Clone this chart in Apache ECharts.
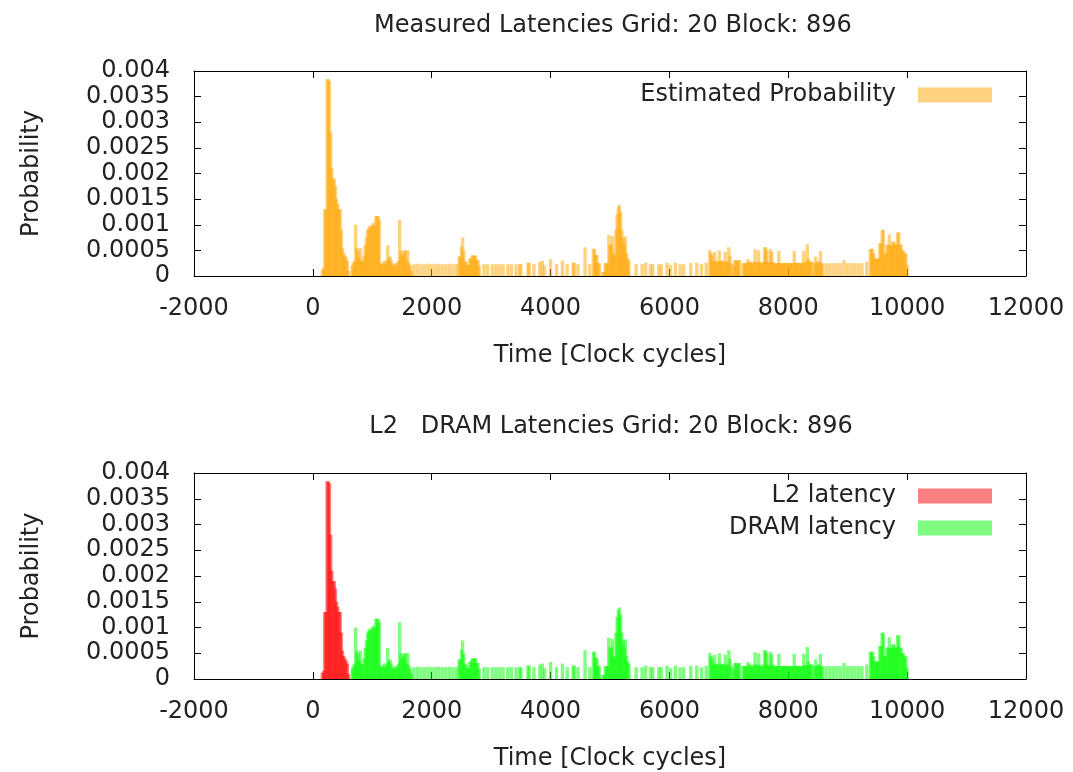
<!DOCTYPE html>
<html>
<head>
<meta charset="utf-8">
<script src="https://cdn.jsdelivr.net/npm/echarts@6/dist/echarts.min.js"></script>
<style>
  html, body { margin: 0; padding: 0; background: #fff; }
  #chart { width: 1073px; height: 772px; }
</style>
</head>
<body>
<div id="chart"></div>
<script>
// Latency histogram: [clock cycles, probability]

// L2 hits
const l2Latency = [
  [160,0.00012],[180,0.00016],[200,0.0013],[220,0.0013],[240,0.00384],[260,0.00384],[280,0.0038],
  [300,0.0028],[320,0.0021],[340,0.0019],[360,0.0019],[380,0.00176],[400,0.0015],[420,0.0014],
  [440,0.0013],[460,0.0013],[480,0.0009],[500,0.00055],[520,0.00045],[540,0.0004],[560,0.00036],
  [580,0.0003],[600,0.0001]
];

// DRAM accesses, split by cycle range
const dramNear = [
  [660,0.0002],[680,0.00026],[700,0.0003],[720,0.001],[740,0.00055],[760,0.0005],[780,0.00036],
  [800,0.00055],[820,0.0003],[840,0.00028],[860,0.0004],[880,0.0006],[900,0.00075],[920,0.0009],
  [940,0.00094],[960,0.00098],[980,0.00094],[1000,0.001],[1020,0.00104],[1040,0.00098],
  [1060,0.00117],[1080,0.00117],[1100,0.00117],[1120,0.0011],[1140,0.00025],[1160,0.00023],
  [1180,0.00025],[1200,0.0003],[1220,0.00023],[1240,0.0003],[1260,0.0006],[1280,0.00035],
  [1300,0.00038],[1320,0.0003],[1340,0.00022],[1360,0.0002],[1380,0.00025],[1400,0.0002],
  [1420,0.00025],[1440,0.0003],[1460,0.0011],[1480,0.0005],[1500,0.0004],[1520,0.00045],
  [1540,0.0005],[1560,0.0005],[1580,0.0003],[1600,0.0005],[1620,0.00025],[1640,0.0002],[1660,0.0001]
];

const dramMid = [
  [1700,0.00023],[1760,0.00024],[1820,0.00023],[1880,0.00023],[1940,0.00024],[2000,0.00023],
  [2060,0.00023],[2120,0.00024],[2180,0.00023],[2240,0.00023],[2300,0.00024],[2360,0.00023],
  [2420,0.00023],[2460,0.00038],[2480,0.00038],[2500,0.00057],[2520,0.00075],[2540,0.0005],
  [2560,0.00028],[2580,0.00028],[2600,0.00021],[2620,0.00021],[2640,0.00034],[2660,0.00034],
  [2680,0.0004],[2700,0.0004],[2720,0.0004],[2740,0.0004],[2760,0.00031],[2780,0.00031],[2800,0.0002],
  [2880,0.00023],[2940,0.00023],[3020,0.00023],[3080,0.00023],[3140,0.00023],[3200,0.00023],
  [3280,0.00023],[3340,0.00023],[3420,0.00023],[3480,0.00023],[3500,0.00023],[3620,0.00026],
  [3640,0.00026],[3720,0.00023],[3820,0.00028],[3860,0.0003],[3900,0.00021],[4000,0.00033],
  [4100,0.00023],[4200,0.0003],[4280,0.00023],[4380,0.00026],[4400,0.00026],[4460,0.00023],
  [4580,0.00056],[4660,0.00023],[4720,0.00053],[4740,0.00053],[4760,0.00041],[4780,0.00041],
  [4800,0.00025],[4820,0.00025],[4880,0.00008],[4900,0.00008],[4920,0.00025],[4940,0.00025],
  [4960,0.00025]
];

const dramPeak = [
  [4980,0.0008],[5000,0.0006],[5020,0.00062],[5040,0.00078],[5060,0.00045],[5080,0.0004],
  [5100,0.0009],[5120,0.0012],[5140,0.00135],[5160,0.00139],[5180,0.00125],[5200,0.0009],
  [5220,0.00075],[5240,0.00062],[5260,0.00077],[5280,0.00045],[5300,0.00035],[5320,0.0003]
];

const dramTail = [
  [5440,0.00023],[5540,0.00023],[5600,0.00026],[5680,0.00023],[5720,0.00023],[5820,0.00023],
  [5860,0.00023],[5960,0.00026],[6020,0.00021],[6100,0.00026],[6180,0.00023],[6240,0.00023],
  [6360,0.00026],[6460,0.00026],[6540,0.00023],[6620,0.00026],
  [6680,0.00051],[6700,0.00045],[6720,0.0004],[6740,0.00028],[6760,0.00047],[6780,0.0003],
  [6800,0.00028],[6820,0.00028],[6840,0.0005],[6860,0.0003],[6880,0.00028],[6900,0.0003],
  [6920,0.00028],[6940,0.00047],[6960,0.00028],[6980,0.00028],[7000,0.00056],[7020,0.0004],
  [7040,0.00025],[7080,0.0002],[7100,0.00031],[7120,0.00031],[7140,0.00028],[7160,0.00031],
  [7180,0.00031],[7240,0.00025],[7260,0.00025],[7280,0.00025],[7300,0.00025],[7320,0.00033],
  [7340,0.00028],[7360,0.00028],[7380,0.00025]
];

const dramFar = [
  [7400,0.00025],[7420,0.00028],[7440,0.00052],[7460,0.00028],[7480,0.00025],[7500,0.0005],
  [7520,0.00028],[7540,0.00025],[7560,0.00025],[7580,0.00028],[7600,0.00056],[7620,0.00056],
  [7640,0.0005],[7660,0.00028],[7680,0.00025],[7700,0.00053],[7720,0.00047],[7740,0.00028],
  [7760,0.00025],[7780,0.00025],[7800,0.00025],[7820,0.00025],[7840,0.00049],[7860,0.00025],
  [7880,0.00025],[7900,0.00025],[7920,0.00025],[7940,0.00026],[7960,0.00025],[7980,0.00025],
  [8000,0.00026],[8020,0.00025],[8040,0.00025],[8060,0.00025],[8080,0.00025],[8100,0.00049],
  [8120,0.00025],[8140,0.00025],[8160,0.00026],[8180,0.00025],[8200,0.00025],[8220,0.00025],
  [8240,0.00025],[8260,0.00049],[8280,0.00027],[8300,0.00027],[8320,0.00062],[8340,0.00034],
  [8360,0.00028],[8380,0.00028],[8400,0.00028],[8440,0.00025],[8460,0.00038],[8480,0.00025],
  [8500,0.00028],[8520,0.00028],[8540,0.00049],[8560,0.00025],[8580,0.00025],
  [8640,0.00025],[8700,0.00025],[8760,0.00025],[8820,0.00025],[8880,0.00025],[8940,0.00031],
  [9000,0.00025],[9060,0.00025],[9120,0.00025],[9180,0.00025],[9240,0.00025],[9320,0.00028],
  [9380,0.00053],[9400,0.00053],[9420,0.00053],[9440,0.00044],[9460,0.00034],[9480,0.00034],
  [9500,0.00034],[9520,0.00034],[9540,0.00064],[9560,0.00064],[9580,0.0009],[9600,0.0009],
  [9620,0.00044],[9640,0.00044],[9660,0.00061],[9680,0.00061],[9700,0.00081],[9720,0.0006],
  [9740,0.0006],[9760,0.00067],[9780,0.00067],[9800,0.00061],[9820,0.00061],[9840,0.00085],
  [9860,0.00085],[9880,0.00061],[9900,0.00061],[9920,0.0005],[9940,0.0005],[9960,0.00044],
  [9980,0.00044],[10000,0.00021]
];

const dramLatency = [].concat(dramNear, dramMid, dramPeak, dramTail, dramFar);
const measuredLatency = [].concat(l2Latency, dramLatency);

const titles = [
  'Measured Latencies Grid: 20 Block: 896',
  'L2   DRAM Latencies Grid: 20 Block: 896'
];

const FONT = 'DejaVu Sans';
const TEXT = '#222';
const FS = 24;

const textStyle = { fontFamily: FONT, fontSize: FS, color: TEXT, fontWeight: 'normal' };

function xAxes(gridIndex) {
  const common = {
    type: 'value', gridIndex, min: -2000, max: 12000, interval: 2000,
    axisLine: { show: true, onZero: false, lineStyle: { color: '#000', width: 1 } },
    axisTick: { show: true, inside: true, length: 7, lineStyle: { color: '#000', width: 1 } },
    splitLine: { show: false }
  };
  return [
    Object.assign({}, common, {
      position: 'bottom',
      axisLabel: Object.assign({ margin: 21, formatter: v => String(v) }, textStyle),
      name: 'Time [Clock cycles]', nameLocation: 'middle', nameGap: 68,
      nameTextStyle: textStyle
    }),
    Object.assign({}, common, { position: 'top', axisLabel: { show: false } })
  ];
}

function yAxes(gridIndex) {
  const common = {
    type: 'value', gridIndex, min: 0, max: 0.004, interval: 0.0005,
    axisLine: { show: true, onZero: false, lineStyle: { color: '#000', width: 1 } },
    axisTick: { show: true, inside: true, length: 7, lineStyle: { color: '#000', width: 1 } },
    splitLine: { show: false }
  };
  return [
    Object.assign({}, common, {
      position: 'left',
      axisLabel: Object.assign({ margin: 24, formatter: v => String(+v.toFixed(4)) }, textStyle),
      name: 'Probability', nameLocation: 'middle', nameRotate: 90, nameGap: 150,
      nameTextStyle: textStyle
    }),
    Object.assign({}, common, { position: 'right', axisLabel: { show: false } })
  ];
}

function legend(names, top) {
  return {
    data: names, orient: 'vertical', right: 81, top, padding: 0,
    align: 'right', icon: 'rect', itemWidth: 74, itemHeight: 15, itemGap: 8,
    selectedMode: false,
    textStyle: Object.assign({ lineHeight: 24, padding: [0, 17, 0, 0] }, textStyle)
  };
}

function bars(name, data, xi, color) {
  return {
    type: 'bar', name, data, xAxisIndex: xi, yAxisIndex: xi,
    barWidth: 3.4, barGap: '-100%',
    itemStyle: { color },
    emphasis: { disabled: true },
    animation: false
  };
}

const chart = echarts.init(document.getElementById('chart'), null, { renderer: 'canvas' });
chart.setOption({
  backgroundColor: '#fff',
  animation: false,
  title: [
    { text: titles[0], left: 608, top: 9, textAlign: 'center', textStyle },
    { text: titles[1], left: 606, top: 410, textAlign: 'center', textStyle }
  ],
  legend: [
    legend(['Estimated Probability'], 83),
    legend(['L2 latency', 'DRAM latency'], 484)
  ],
  grid: [
    { left: 194, top: 71, width: 832, height: 205 },
    { left: 194, top: 473, width: 832, height: 207 }
  ],
  xAxis: [].concat(xAxes(0), xAxes(1)),
  yAxis: [].concat(yAxes(0), yAxes(1)),
  series: [
    bars('Estimated Probability', measuredLatency, 0, 'rgba(255,165,0,0.5)'),
    bars('L2 latency', l2Latency, 2, 'rgba(255,0,0,0.5)'),
    bars('DRAM latency', dramLatency, 2, 'rgba(0,255,0,0.5)')
  ]
});
</script>
</body>
</html>
